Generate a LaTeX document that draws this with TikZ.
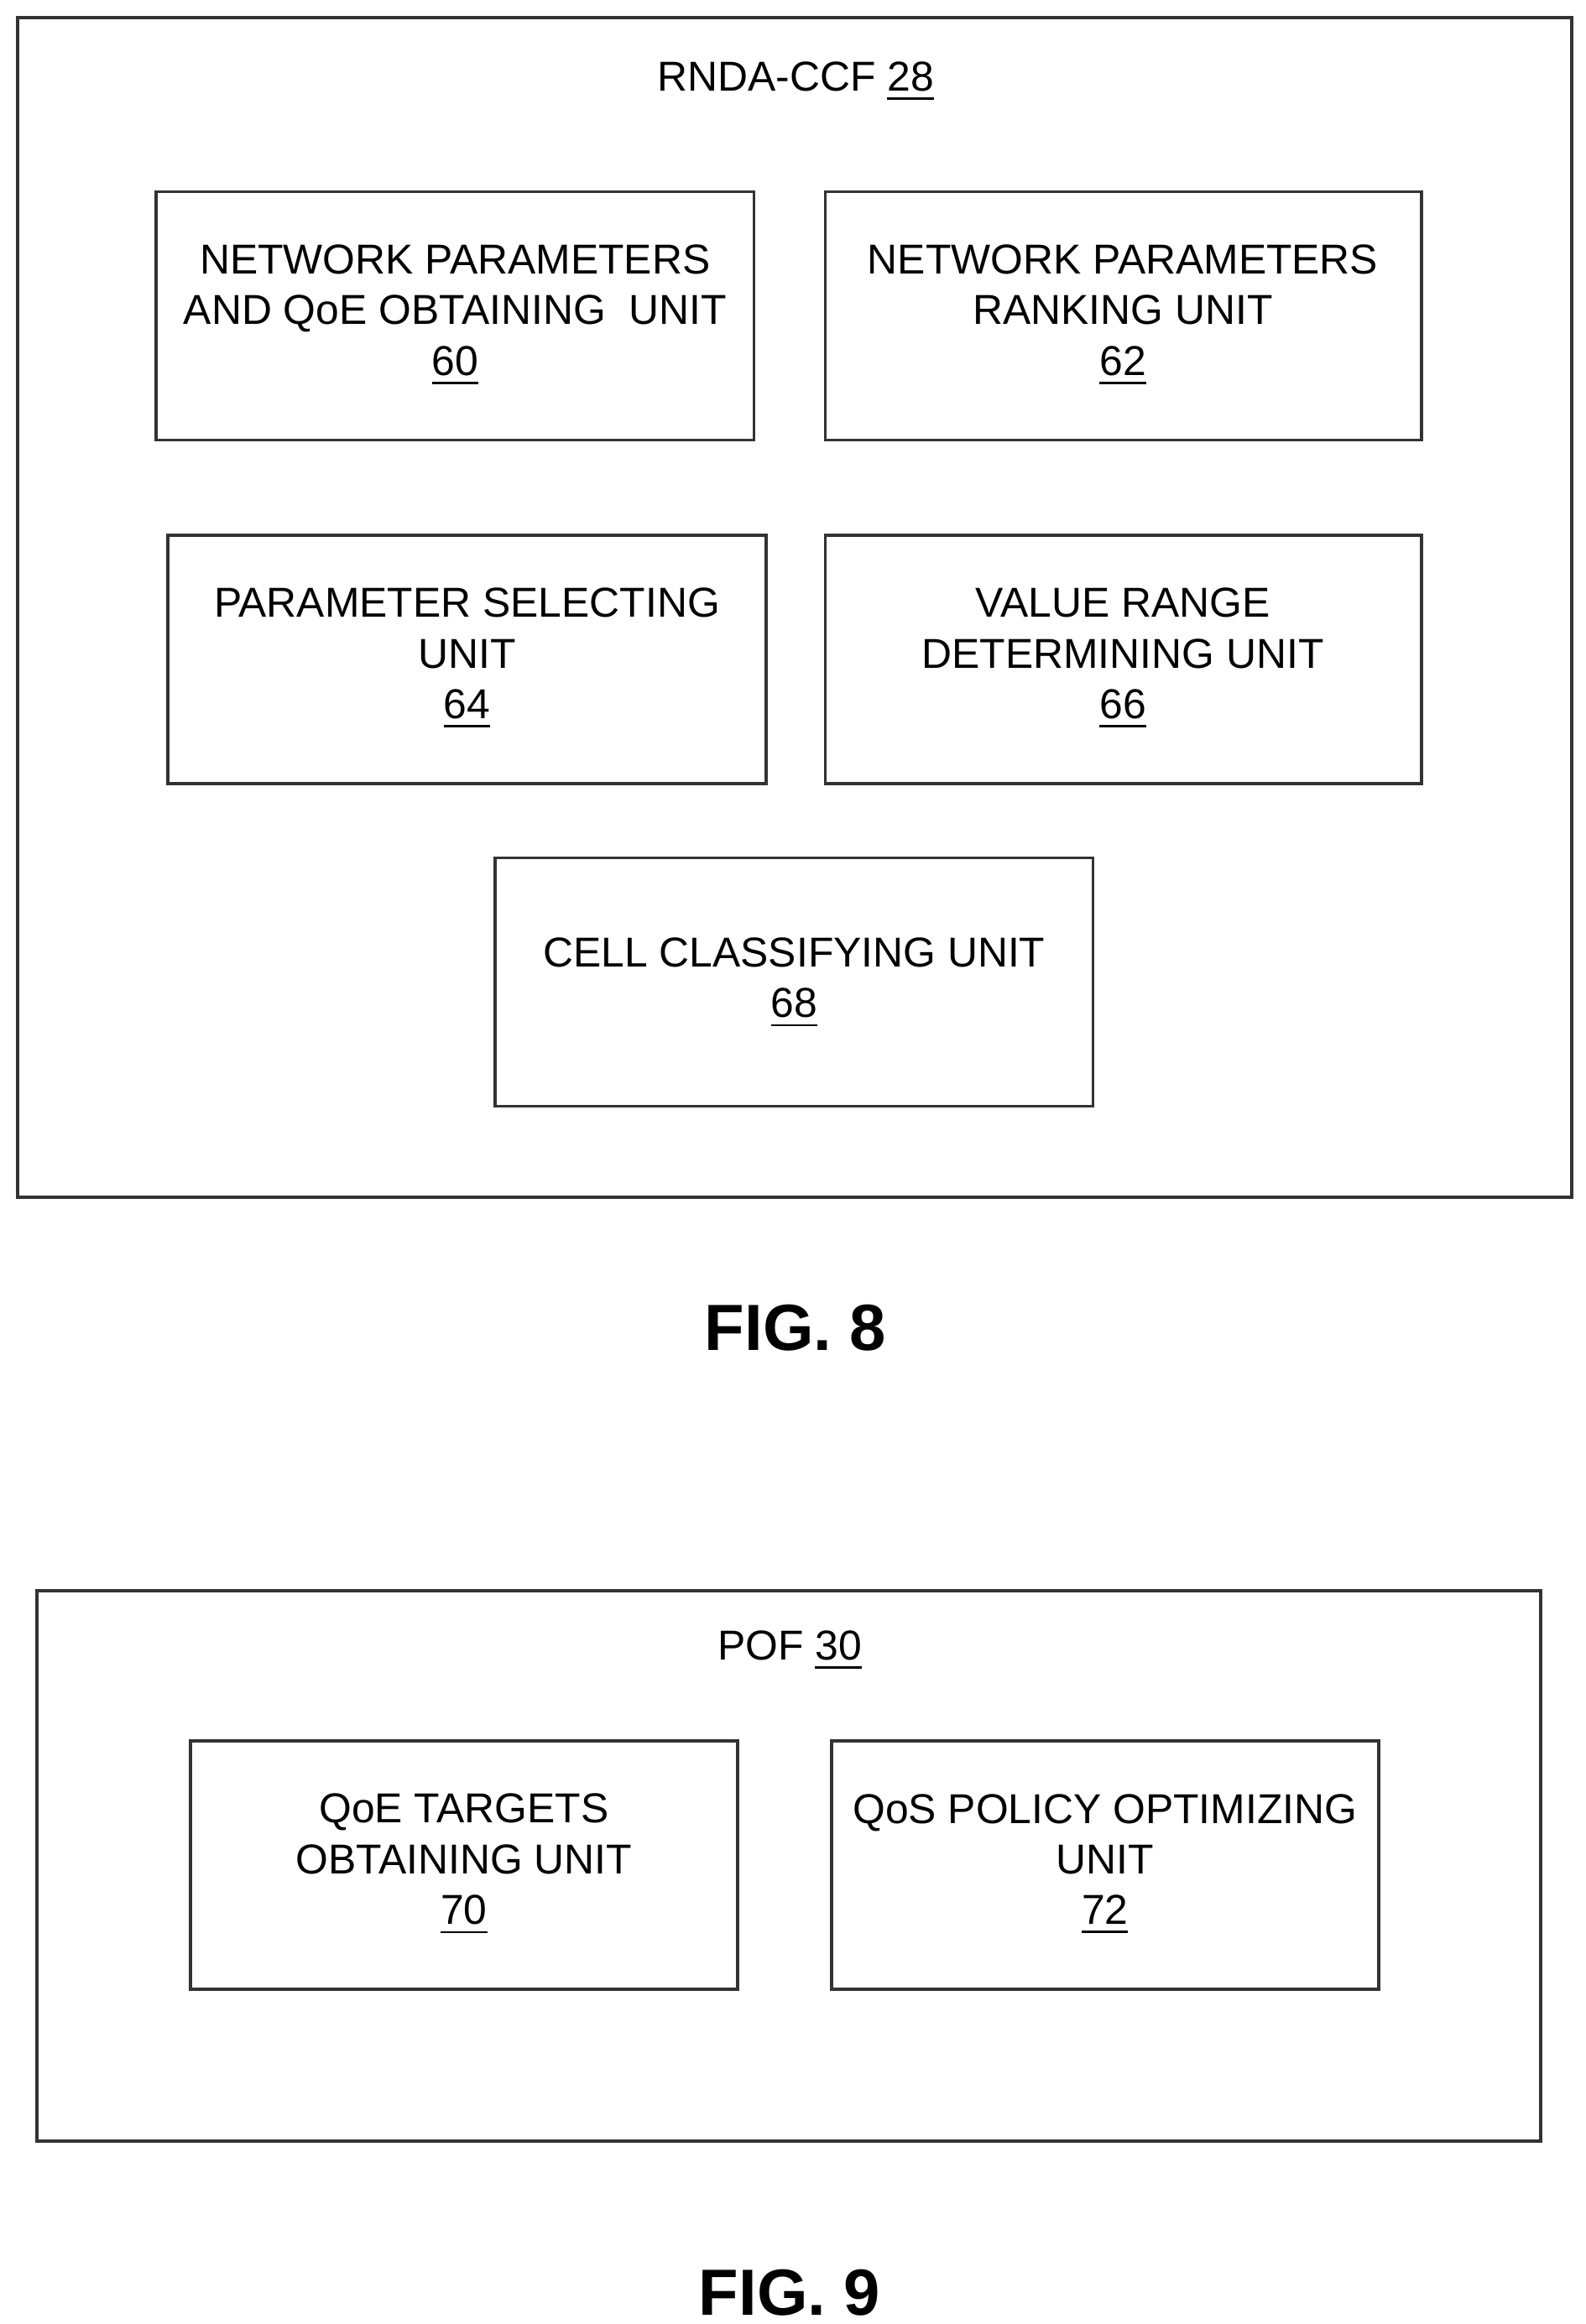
\documentclass[tikz,border=0pt]{standalone}
\usepackage{fontspec}
\setmainfont{Liberation Sans}
\begin{document}
\begin{tikzpicture}[x=0.1mm,y=-0.1mm,
  frame/.style={draw=black!80,line width=0.6pt},
  unit/.style={frame,align=center,font=\fontsize{8}{9.7}\selectfont},
  lbl/.style={font=\fontsize{8}{9.7}\selectfont},
  fig/.style={font=\fontsize{12.5}{14}\selectfont\bfseries}]
\useasboundingbox (0,0) rectangle (1066,1563);
\draw[frame] (12,12) rectangle (1057,805);
\node[lbl] (t8) at (535,55) {RNDA-CCF \underline{28}};
\draw[frame] (105,129) rectangle (507,296);
\node[lbl,align=center] (u60) at (306,212) {NETWORK PARAMETERS\\AND QoE OBTAINING\ \ UNIT\\\underline{60}};
\draw[frame] (555,129) rectangle (956,296);
\node[lbl,align=center] (u62) at (755,212) {NETWORK PARAMETERS\\RANKING UNIT\\\underline{62}};
\draw[frame] (113,360) rectangle (515,527);
\node[lbl,align=center] (u64) at (314,443) {PARAMETER SELECTING\\UNIT\\\underline{64}};
\draw[frame] (555,360) rectangle (956,527);
\node[lbl,align=center] (u66) at (755,443) {VALUE RANGE\\DETERMINING UNIT\\\underline{66}};
\draw[frame] (333,577) rectangle (735,744);
\node[lbl,align=center] (u68) at (534,661) {CELL CLASSIFYING UNIT\\\underline{68}};
\node[fig] (f8) at (535,893) {FIG. 8};
\draw[frame] (25,1070) rectangle (1036,1440);
\node[lbl] (t9) at (531,1110) {POF \underline{30}};
\draw[frame] (128,1171) rectangle (496,1338);
\node[lbl,align=center] (u70) at (312,1254) {QoE TARGETS\\OBTAINING UNIT\\\underline{70}};
\draw[frame] (559,1171) rectangle (927,1338);
\node[lbl,align=center] (u72) at (743,1254) {QoS POLICY OPTIMIZING\\UNIT\\\underline{72}};
\node[fig] (f9) at (531,1542) {FIG. 9};
\end{tikzpicture}
\end{document}
